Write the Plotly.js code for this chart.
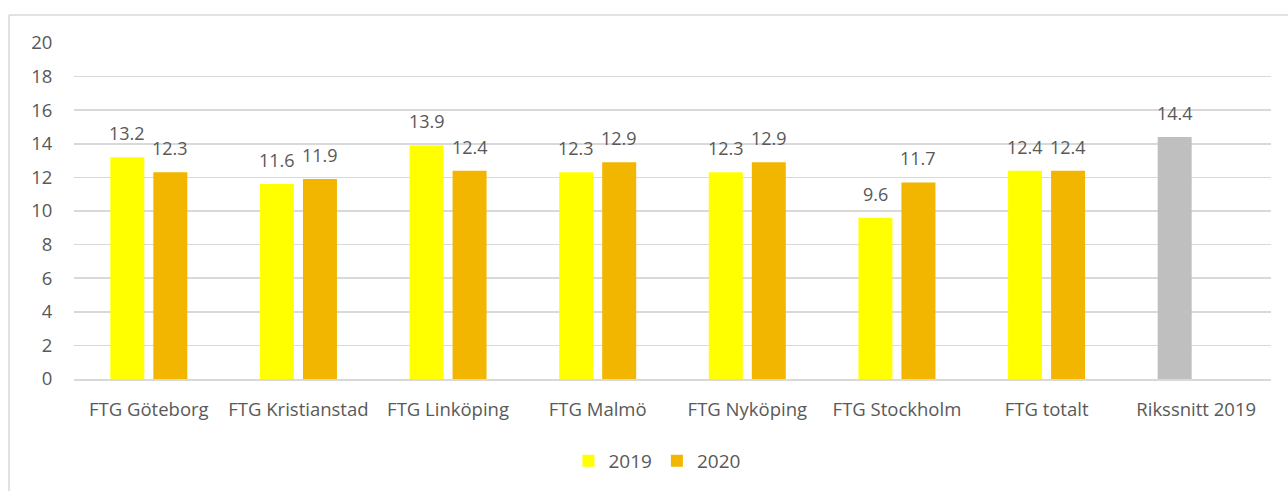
<!DOCTYPE html>
<html>
<head>
<meta charset="utf-8">
<script src="https://cdn.plot.ly/plotly-3.0.1.min.js"></script>
<style>
html,body{margin:0;padding:0;background:#fff;}
#chart{width:1288px;height:491px;}
</style>
</head>
<body>
<div id="chart"></div>
<script>
const categories = ["FTG Göteborg","FTG Kristianstad","FTG Linköping","FTG Malmö","FTG Nyköping","FTG Stockholm","FTG totalt","Rikssnitt 2019"];
const values2019 = [13.2, 11.6, 13.9, 12.3, 12.3, 9.6, 12.4, 14.4];
const values2020 = [12.3, 11.9, 12.4, 12.9, 12.9, 11.7, 12.4, null];
const yTicks = [0,2,4,6,8,10,12,14,16,18,20];

const YELLOW = "#FFFF00", ORANGE = "#F2B600", GREY = "#BFBFBF", TXT = "#595959";
const FONT = "Open Sans, sans-serif";

const colors2019 = categories.map((c,i) => i === categories.length-1 ? GREY : YELLOW);

const traces = [
  {type:"bar", name:"2019", x:categories, y:values2019, marker:{color:colors2019}, hoverinfo:"x+y"},
  {type:"bar", name:"2020", x:categories, y:values2020, marker:{color:ORANGE}, hoverinfo:"x+y"}
];

const annotations = [];
function addLabels(vals, shift){
  vals.forEach((v,i) => {
    if (v === null) return;
    annotations.push({x:categories[i], y:v, xref:"x", yref:"y", text:v.toFixed(1),
      showarrow:false, xshift:shift, yanchor:"bottom", yshift:10,
      font:{family:FONT, size:18, color:TXT}});
  });
}
addLabels(values2019, -21.5);
addLabels(values2020, 21.5);

const layout = {
  width:1288, height:491,
  margin:{l:74, r:17, t:43, b:111},
  paper_bgcolor:"#fff", plot_bgcolor:"#fff",
  font:{family:FONT, size:18, color:TXT},
  barmode:"group", bargap:0.425, bargroupgap:0.21,
  showlegend:true,
  legend:{orientation:"h", x:0.487, xanchor:"center", y:-0.24, yanchor:"middle",
    font:{family:FONT, size:19, color:TXT}, itemwidth:30, traceorder:"normal"},
  xaxis:{type:"category", showgrid:false, showline:true, linecolor:"#D9D9D9", linewidth:1.5,
    ticks:"outside", ticklen:13, tickcolor:"rgba(0,0,0,0)", tickfont:{family:FONT, size:18.5, color:TXT},
    fixedrange:true},
  yaxis:{range:[0,20], tickvals:yTicks, ticktext:yTicks.map(String), showgrid:true, gridcolor:"#D9D9D9", gridwidth:1.5,
    zeroline:false, showline:false, ticks:"outside", ticklen:17, tickcolor:"rgba(0,0,0,0)",
    tickfont:{family:FONT, size:18.5, color:TXT}, fixedrange:true},
  annotations:annotations,
  shapes:[
    {type:"line", xref:"paper", yref:"paper", x0:-0.0543, x1:1.02, y0:1.083, y1:1.083, line:{color:"#D9D9D9", width:1.5}},
    {type:"line", xref:"paper", yref:"paper", x0:-0.0543, x1:-0.0543, y0:1.083, y1:-0.35, line:{color:"#D9D9D9", width:1.5}}
  ]
};

Plotly.newPlot("chart", traces, layout, {displayModeBar:false, staticPlot:true});
</script>
</body>
</html>
